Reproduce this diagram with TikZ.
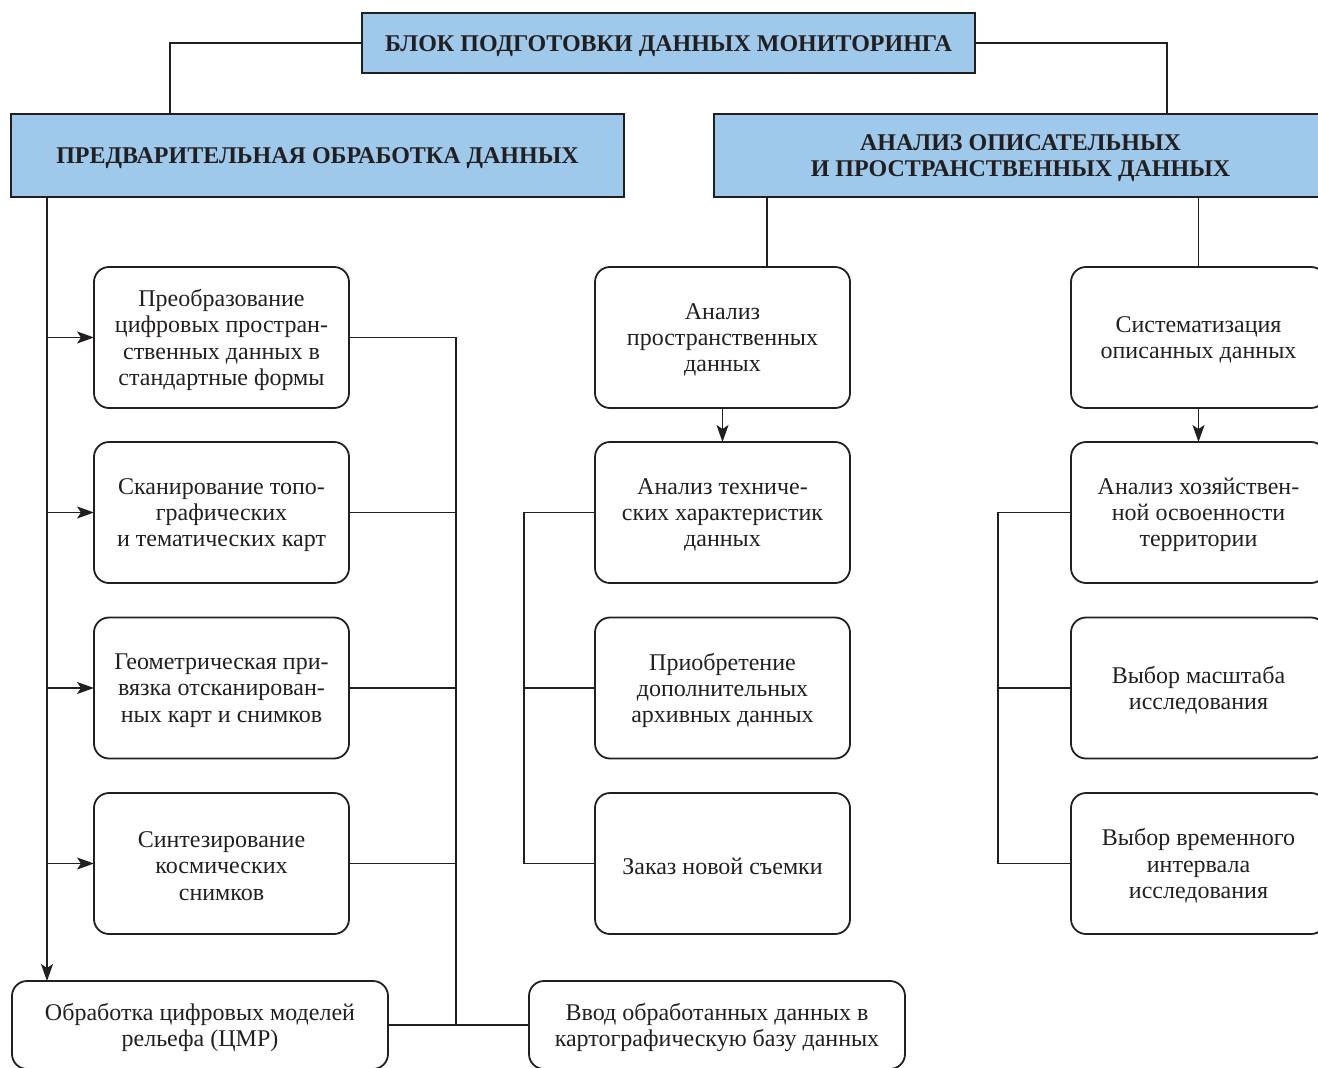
\documentclass[tikz,border=0pt]{standalone}
\usepackage{fontspec}
\setmainfont{Liberation Serif}
\usetikzlibrary{arrows.meta,calc}
\definecolor{hdrblue}{RGB}{158,201,234}
\definecolor{ink}{RGB}{35,31,32}
\newcommand\mybox[4][rbox]{%
  \node[#1] (#2) at (#3) {};
  \node[txt] (#2t) at ([yshift=-2.5pt]#2.center) {#4};}
\newcommand\myhdr[4][]{%
  \node[hdr,#1] (#2) at (#3) {};
  \node[htxt] (#2t) at ([yshift=-3pt]#2.center) {#4};}
\begin{document}
\begin{tikzpicture}[x=1pt,y=-1pt,
  every node/.style={inner sep=0pt,outer sep=0pt},
  hdr/.style={draw=ink,line width=2pt,fill=hdrblue,minimum width=613pt},
  htxt/.style={align=center,text=ink,font=\bfseries\fontsize{24}{26}\selectfont},
  rbox/.style={draw=ink,line width=1.8pt,rounded corners=15pt,
    minimum width=255pt,minimum height=141pt},
  wbox/.style={rbox,minimum width=376pt,minimum height=88pt},
  txt/.style={align=center,text=ink,font=\fontsize{24}{26.3}\selectfont},
  conn/.style={draw=ink,line width=1.8pt},
  arr/.style={conn,-{Stealth[length=17pt,width=12pt,inset=4pt]}}]
\useasboundingbox (0,0) rectangle (1318,1068);
\clip (0,0) rectangle (1318,1068);
% headers
\myhdr[minimum height=60pt]{T}{668.5,43}{БЛОК ПОДГОТОВКИ ДАННЫХ МОНИТОРИНГА}
\myhdr[minimum height=83pt]{H1}{317.5,155.5}{ПРЕДВАРИТЕЛЬНАЯ ОБРАБОТКА ДАННЫХ}
\myhdr[minimum height=83pt]{H2}{1020.5,155.5}{АНАЛИЗ ОПИСАТЕЛЬНЫХ\\И ПРОСТРАНСТВЕННЫХ ДАННЫХ}
% left column
\mybox{L1}{221.5,337.5}{Преобразование\\цифровых простран-\\ственных данных в\\стандартные формы}
\mybox{L2}{221.5,512.5}{Сканирование топо-\\графических\\и тематических карт}
\mybox{L3}{221.5,688}{Геометрическая при-\\вязка отсканирован-\\ных карт и снимков}
\mybox{L4}{221.5,863.5}{Синтезирование\\космических\\снимков}
% middle column
\mybox{M1}{722.5,337.5}{Анализ\\пространственных\\данных}
\mybox{M2}{722.5,512.5}{Анализ техниче-\\ских характеристик\\данных}
\mybox{M3}{722.5,688}{Приобретение\\дополнительных\\архивных данных}
\mybox{M4}{722.5,863.5}{Заказ новой съемки}
% right column
\mybox{R1}{1198.5,337.5}{Систематизация\\описанных данных}
\mybox{R2}{1198.5,512.5}{Анализ хозяйствен-\\ной освоенности\\территории}
\mybox{R3}{1198.5,688}{Выбор масштаба\\исследования}
\mybox{R4}{1198.5,863.5}{Выбор временного\\интервала\\исследования}
% bottom
\mybox[wbox]{C}{200,1025}{Обработка цифровых моделей\\рельефа (ЦМР)}
\mybox[wbox]{D}{717,1025}{Ввод обработанных данных в\\картографическую базу данных}
% connectors from top
\draw[conn] (T.west) -| ([xshift=159pt]H1.north west);
\draw[conn] (T.east) -| ([xshift=453pt]H2.north west);
% left trunk
\coordinate (v0) at ([xshift=36pt]H1.south west);
\draw[arr] (v0) -- (v0 |- C.north);
\foreach \b in {L1,L2,L3,L4} \draw[arr] (v0 |- \b.west) -- (\b.west);
% left bracket to bottom
\coordinate (bx) at (456,1025);
\draw[conn] (L1.east) -| (bx);
\foreach \b in {L2,L3,L4} \draw[conn] (\b.east) -- (\b.east -| bx);
\draw[conn] (C.east) -- (D.west);
% middle
\coordinate (h2a) at ([xshift=53pt]H2.south west);
\draw[conn] (h2a) -- (h2a |- M1.north);
\draw[arr] (M1.south) -- (M2.north);
\draw[conn] (M2.west) -- ++(-71,0) |- (M4.west);
\draw[conn] (M3.west) -- ++(-71,0);
% right
\draw[conn] (R1.north |- H2.south) -- (R1.north);
\draw[arr] (R1.south) -- (R2.north);
\draw[conn] (R2.west) -- ++(-73,0) |- (R4.west);
\draw[conn] (R3.west) -- ++(-73,0);
\end{tikzpicture}
\end{document}
